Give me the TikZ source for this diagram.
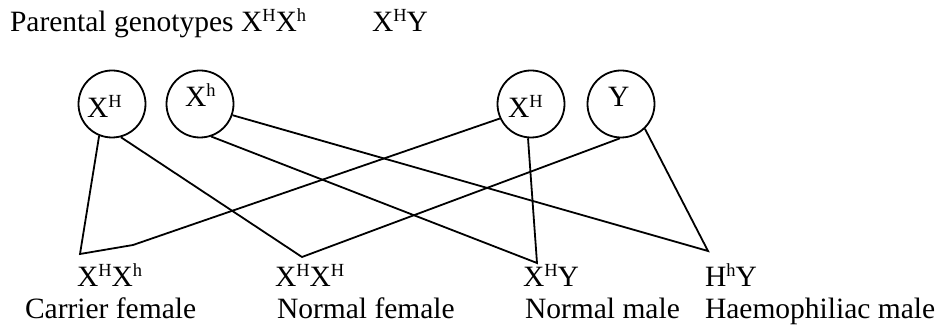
\documentclass[tikz,border=0pt]{standalone}
\usepackage{fontspec}
\setmainfont{Liberation Serif}
\newcommand\upsc[1]{\raisebox{10pt}{\fontsize{18.5}{19}\selectfont #1}}
\begin{document}
\begin{tikzpicture}[x=1pt,y=-1pt,
  every node/.style={font=\fontsize{29.5}{30}\selectfont},
  txt/.style={anchor=base west,inner sep=0pt,outer sep=0pt},
  gam/.style={circle,draw,line width=1.8pt,minimum size=67pt,inner sep=0pt},
  link/.style={line width=1.8pt,line join=miter}]
\useasboundingbox (0,0) rectangle (942,328);
\node[txt] (title) at (10,32) {Parental genotypes X\upsc{H}X\upsc{h}};
\node[txt] (male) at (372,32) {X\upsc{H}Y};
% gametes
\node[gam] (g1) at (112,104) {};
\node[gam] (g2) at (200,104) {};
\node[gam] (g3) at (531,104) {};
\node[gam] (g4) at (621,104) {};
\node[txt] (t1) at (87,118) {X\upsc{H}};
\node[txt] (t2) at (185,107) {X\upsc{h}};
\node[txt] (t3) at (508,118) {X\upsc{H}};
\node[txt] (t4) at (608,107) {Y};
% offspring points
\coordinate (cf) at (80,254);
\coordinate (cfb) at (133,245);
\coordinate (nf) at (302,257);
\coordinate (nm) at (537,263);
\coordinate (hm) at (708,251);
% connectors
\draw[link] (g1.248) -- (cf) -- (cfb) -- (g3.205);
\draw[link] (g1.285) -- (nf) -- (g4.268);
\draw[link] (g2.289) -- (nm) -- (g3.265);
\draw[link] (g2.341) -- (hm) -- (g4.314);
% offspring labels
\node[txt] (o1) at (77,287) {X\upsc{H}X\upsc{h}};
\node[txt] (o2) at (275,287) {X\upsc{H}X\upsc{H}};
\node[txt] (o3) at (523,287) {X\upsc{H}Y};
\node[txt] (o4) at (705,287) {H\upsc{h}Y};
\node[txt] (p1) at (25,319) {Carrier female};
\node[txt] (p2) at (277,319) {Normal female};
\node[txt] (p3) at (525,319) {Normal male};
\node[txt] (p4) at (705,319) {Haemophiliac male};
\end{tikzpicture}
\end{document}
